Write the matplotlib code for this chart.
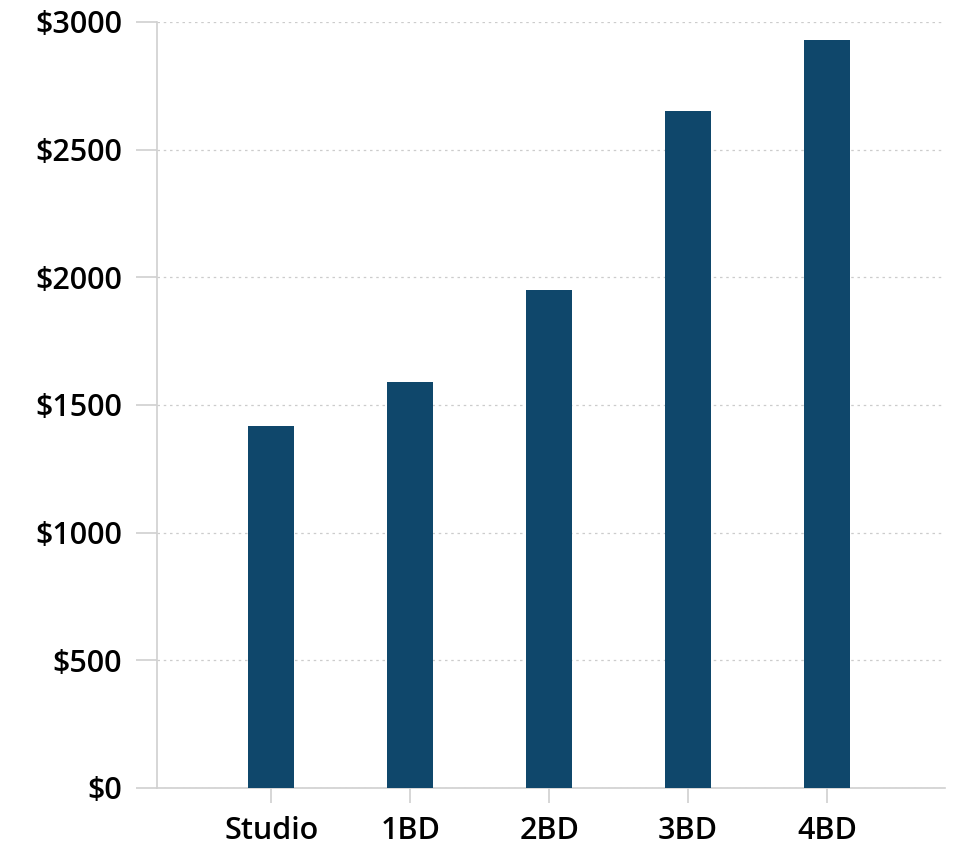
import matplotlib.pyplot as plt
from matplotlib.ticker import FuncFormatter

categories = ["Studio", "1BD", "2BD", "3BD", "4BD"]
rents = [1418, 1590, 1950, 2652, 2930]
yticks = [0, 500, 1000, 1500, 2000, 2500, 3000]

plt.rcParams['font.family'] = ['Open Sans', 'DejaVu Sans']
plt.rcParams['font.weight'] = 'semibold'

fig = plt.figure(figsize=(9.57, 8.44), dpi=100)
ax = fig.add_axes([0.164, 0.0664, 0.8235, 0.9076])

x = list(range(len(categories)))
ax.bar(x, rents, width=0.33, color="#0f476b", zorder=3)

ax.set_xlim(-0.824, 4.85)
ax.set_ylim(0, 3000)
ax.set_yticks(yticks)
ax.yaxis.set_major_formatter(FuncFormatter(lambda v, p: f"${int(v)}"))
ax.set_xticks(x, labels=categories)

ax.grid(axis="y", color="#cccccc", linestyle=(0, (2, 3)), linewidth=0.9, zorder=0)
for side in ["top", "right"]:
    ax.spines[side].set_visible(False)
for side in ["left", "bottom"]:
    ax.spines[side].set_color("#d0d0d0")
    ax.spines[side].set_linewidth(1.2)

ax.tick_params(axis="y", length=15, width=1.2, color="#d0d0d0", pad=10, labelsize=22)
ax.tick_params(axis="x", length=11, width=1.2, color="#d0d0d0", pad=9, labelsize=22)

plt.savefig("out.png", dpi=100)
